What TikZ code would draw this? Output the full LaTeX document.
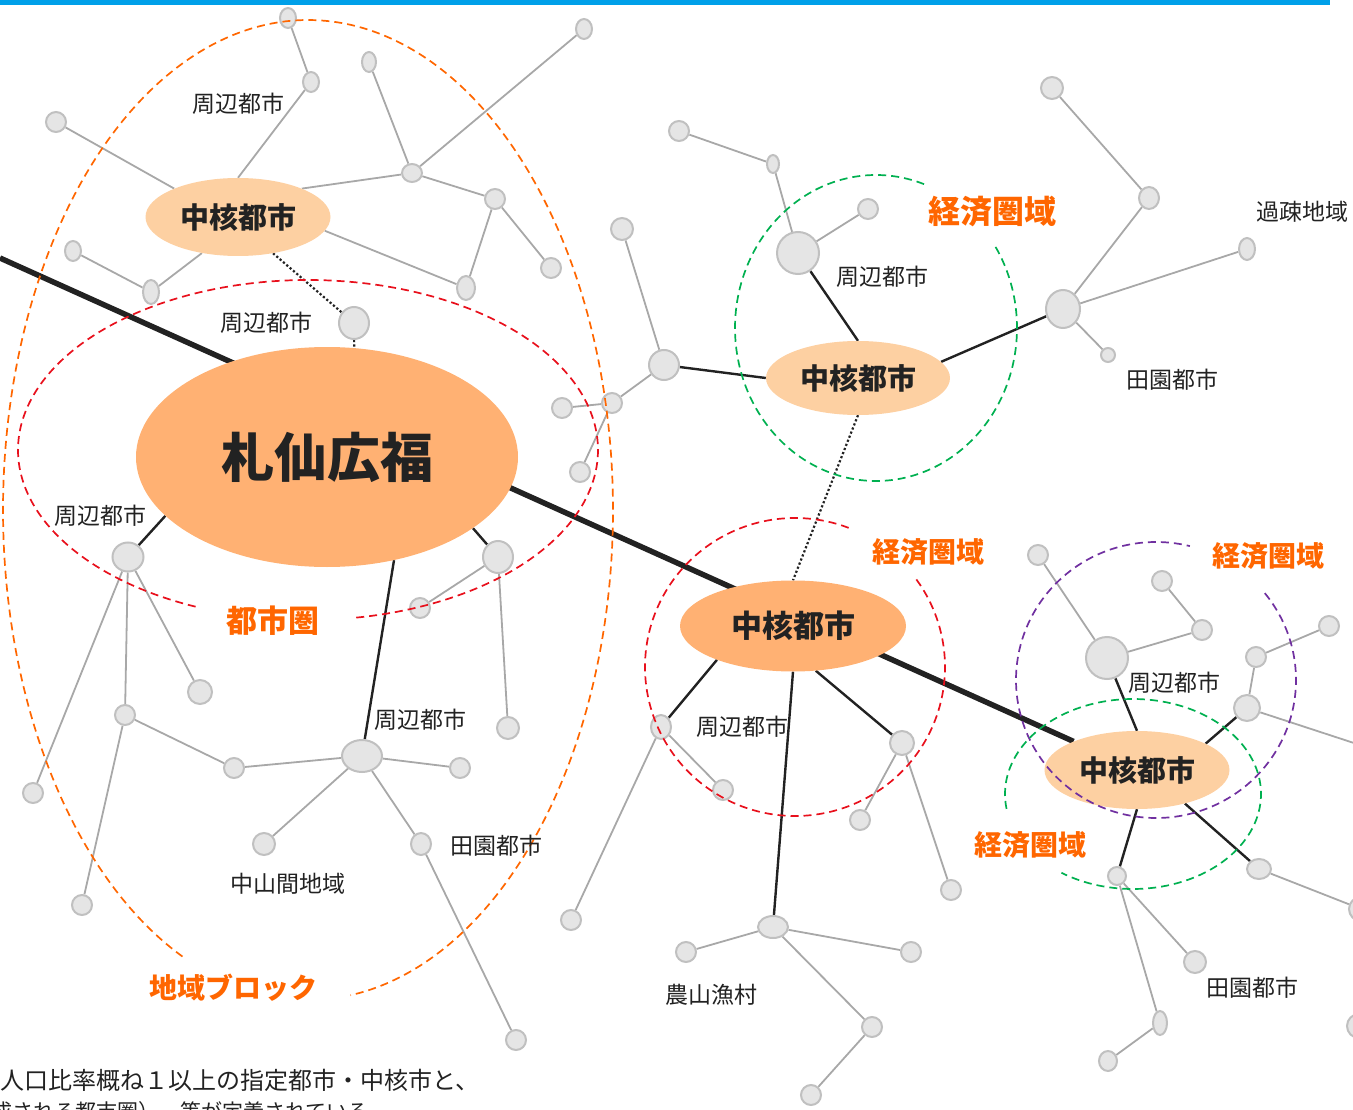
\documentclass[tikz,border=0pt]{standalone}
\usepackage{fontspec}
\newfontfamily\cjk{Noto Sans CJK JP}
\usetikzlibrary{shapes.geometric,backgrounds}
\definecolor{gfill}{RGB}{229,229,229}
\definecolor{gbord}{RGB}{192,192,192}
\definecolor{gline}{RGB}{168,168,168}
\definecolor{lor}{RGB}{253,208,162}
\definecolor{dor}{RGB}{255,177,115}
\definecolor{lbor}{RGB}{255,102,0}
\definecolor{dred}{RGB}{232,16,28}
\definecolor{dgrn}{RGB}{0,176,80}
\definecolor{dpur}{RGB}{112,48,160}
\definecolor{txt}{RGB}{34,34,34}
\definecolor{topbar}{RGB}{0,160,233}
\tikzset{
  gn/.style 2 args={ellipse, draw=gbord, fill=gfill, line width=2, inner sep=0, minimum width=#1, minimum height=#2},
  ge/.style={draw=gline, line width=1.8},
  be/.style={draw=txt, line width=2.4},
  thk/.style={draw=txt, line width=5.5},
  dotl/.style={draw=txt, line width=2.2, dash pattern=on 2.2 off 2.2},
  hub/.style={ellipse, inner sep=0, text=txt},
  lbl/.style={font=\cjk\fontsize{23}{27}\selectfont, text=txt, inner sep=0},
  olbl/.style={font=\cjk\bfseries\fontsize{28}{32}\selectfont, text=lbor, inner sep=0},
  dsh/.style={line width=1.7, dash pattern=on 8 off 5}
}
\begin{document}
\begin{tikzpicture}[x=1pt,y=-1pt]
\useasboundingbox (0,0) rectangle (1353,1110);
\fill[topbar] (0,0) rectangle (1330,5);

% hubs
\node[hub, fill=lor, minimum width=185, minimum height=78, font=\cjk\bfseries\fontsize{29}{33}\selectfont] (c1) at (238,217) {中核都市};
\node[hub, fill=dor, minimum width=382, minimum height=220, font=\cjk\bfseries\fontsize{53}{60}\selectfont] (sap) at (327,457) {札仙広福};
\node[hub, fill=lor, minimum width=184, minimum height=74, font=\cjk\bfseries\fontsize{29}{33}\selectfont] (c3) at (858,378) {中核都市};
\node[hub, fill=dor, minimum width=226, minimum height=91, font=\cjk\bfseries\fontsize{31}{35}\selectfont] (c2) at (793,626) {中核都市};
\node[hub, fill=lor, minimum width=185, minimum height=78, font=\cjk\bfseries\fontsize{29}{33}\selectfont] (c4) at (1137,770) {中核都市};

% gray nodes
\node[gn={16}{20}] (n1) at (288,18) {};
\node[gn={16}{20}] (n2) at (311,82) {};
\node[gn={20}{20}] (n3) at (56,122) {};
\node[gn={14}{20}] (n4) at (369,62) {};
\node[gn={20}{18}] (n5) at (412,173) {};
\node[gn={16}{20}] (n6) at (584,29) {};
\node[gn={20}{20}] (n7) at (495,199) {};
\node[gn={20}{20}] (n8) at (551,268) {};
\node[gn={18}{24}] (n9) at (466,288) {};
\node[gn={16}{20}] (n10) at (73,251) {};
\node[gn={16}{24}] (n11) at (151,292) {};
\node[gn={30}{32}] (n12) at (354,323) {};
\node[gn={31}{29}] (n13) at (128,557) {};
\node[gn={24}{24}] (n14) at (200,692) {};
\node[gn={20}{20}] (n15) at (33,793) {};
\node[gn={20}{20}] (n16) at (125,715) {};
\node[gn={20}{20}] (n17) at (82,905) {};
\node[gn={20}{20}] (n18) at (234,768) {};
\node[gn={40}{32}] (n19) at (362,756) {};
\node[gn={20}{20}] (n20) at (460,768) {};
\node[gn={22}{22}] (n21) at (264,844) {};
\node[gn={20}{22}] (n22) at (421,844) {};
\node[gn={20}{20}] (n23) at (516,1040) {};
\node[gn={30}{32}] (n24) at (498,557) {};
\node[gn={20}{20}] (n25) at (420,608) {};
\node[gn={22}{22}] (n26) at (508,728) {};
\node[gn={22}{22}] (n27) at (622,229) {};
\node[gn={30}{30}] (n28) at (664,365) {};
\node[gn={20}{20}] (n29) at (612,403) {};
\node[gn={20}{20}] (n30) at (562,408) {};
\node[gn={20}{20}] (n31) at (580,472) {};
\node[gn={42}{42}] (n32) at (798,253) {};
\node[gn={20}{20}] (n33) at (868,209) {};
\node[gn={12}{18}] (n34) at (773,164) {};
\node[gn={20}{20}] (n35) at (679,131) {};
\node[gn={34}{38}] (n36) at (1063,309) {};
\node[gn={20}{22}] (n37) at (1149,198) {};
\node[gn={22}{22}] (n38) at (1052,88) {};
\node[gn={16}{22}] (n39) at (1247,249) {};
\node[gn={14}{14}] (n40) at (1108,355) {};
\node[gn={20}{24}] (n41) at (661,727) {};
\node[gn={20}{20}] (n42) at (723,790) {};
\node[gn={20}{20}] (n43) at (571,920) {};
\node[gn={30}{22}] (n44) at (773,927) {};
\node[gn={20}{20}] (n45) at (686,952) {};
\node[gn={20}{20}] (n46) at (911,952) {};
\node[gn={20}{20}] (n47) at (872,1027) {};
\node[gn={20}{20}] (n48) at (811,1095) {};
\node[gn={24}{24}] (n49) at (902,743) {};
\node[gn={20}{20}] (n50) at (860,820) {};
\node[gn={20}{20}] (n51) at (951,890) {};
\node[gn={20}{20}] (n52) at (1038,555) {};
\node[gn={42}{42}] (n53) at (1107,658) {};
\node[gn={20}{20}] (n54) at (1162,581) {};
\node[gn={20}{20}] (n55) at (1202,630) {};
\node[gn={26}{26}] (n56) at (1247,708) {};
\node[gn={20}{20}] (n57) at (1256,657) {};
\node[gn={20}{20}] (n58) at (1329,626) {};
\node[gn={18}{18}] (n59) at (1117,876) {};
\node[gn={22}{22}] (n60) at (1195,962) {};
\node[gn={14}{24}] (n61) at (1160,1023) {};
\node[gn={18}{20}] (n62) at (1108,1061) {};
\node[gn={24}{20}] (n63) at (1259,869) {};
\node[gn={24}{24}] (n64) at (1361,909) {};
\node[gn={24}{24}] (n65) at (1359,1026) {};
\coordinate (ex1) at (1360,745);
\coordinate (tl) at (0,258);

% connectors
\begin{pgfonlayer}{background}
\foreach \a/\b in {n1/n2, n2/c1.north, n3/c1.156, n4/n5, n5/c1.24, n5/n6, n5/n7, n7/n8, n7/n9, n9/c1.-9, n10/n11, n11/c1.-135,
  n13/n14, n13/n15, n13/n16, n16/n17, n16/n18, n18/n19, n19/n20, n19/n21, n19/n22, n22/n23, n24/n25, n24/n26,
  n27/n28, n28/n29, n29/n30, n29/n31, n32/n33, n34/n32, n35/n34, n36/n37, n37/n38, n36/n39, n36/n40,
  n41/n42, n41/n43, n44/n45, n44/n46, n44/n47, n47/n48, n49/n50, n49/n51,
  n52/n53, n54/n55, n55/n53, n56/n57, n57/n58, n56/ex1, n59/n60, n59/n61, n61/n62, n63/n64, n64/n65}
  \draw[ge] (\a) -- (\b);
\draw[thk] (tl) -- (c4);
\foreach \a/\b in {n13/sap.-160, n19/sap.-57, n24/sap.-26, n28/c3.west, n32/c3.north, c3.11/n36,
  c2.204/n41, c2.south/n44, c2.-63/n49, n53/c4.north, c4.21/n56, c4.south/n59, c4.-35/n63}
  \draw[be] (\a) -- (\b);
\draw[dotl] (c1.-46) -- (n12);
\draw[dotl] (n12) -- (sap.76);
\draw[dotl] (c3.south) -- (c2.north);
\end{pgfonlayer}

% dashed regions
\draw[dsh, draw=lbor] plot[domain=114.3:442, samples=200, smooth] ({308+305*cos(\x)},{510+490*sin(\x)});
\draw[dsh, draw=dred] plot[domain=112.8:440.5, samples=200, smooth] ({308+290*cos(\x)},{450+170*sin(\x)});
\draw[dsh, draw=dgrn] plot[domain=-32:290, samples=160, smooth] ({876+141*cos(\x)},{328+153*sin(\x)});
\draw[dsh, draw=dred] plot[domain=-36:291, samples=160, smooth] ({795+150*cos(\x)},{667+149*sin(\x)});
\draw[dsh, draw=dpur] plot[domain=-39:284, samples=160, smooth] ({1156+140*cos(\x)},{680+138*sin(\x)});
\draw[dsh, draw=dgrn] plot[domain=171:484, samples=160, smooth] ({1133+128*cos(\x)},{794+95*sin(\x)});

% labels
\node[lbl] (l1) at (238,104) {周辺都市};
\node[lbl] (l2) at (266,323) {周辺都市};
\node[lbl] (l3) at (100,516) {周辺都市};
\node[lbl] (l4) at (420,720) {周辺都市};
\node[lbl] (l5) at (288,884) {中山間地域};
\node[lbl] (l6) at (496,846) {田園都市};
\node[olbl, font=\cjk\bfseries\fontsize{31}{35}\selectfont] (l7) at (273,621) {都市圏};
\node[olbl] (l8) at (233,988) {地域ブロック};
\node[olbl, font=\cjk\bfseries\fontsize{32}{36}\selectfont] (l9) at (992,212) {経済圏域};
\node[lbl] (l10) at (882,277) {周辺都市};
\node[lbl] (l11) at (1302,212) {過疎地域};
\node[lbl] (l12) at (1172,380) {田園都市};
\node[olbl] (l13) at (928,552) {経済圏域};
\node[lbl] (l14) at (742,727) {周辺都市};
\node[lbl] (l15) at (711,995) {農山漁村};
\node[olbl] (l16) at (1268,556) {経済圏域};
\node[lbl] (l17) at (1174,683) {周辺都市};
\node[olbl] (l18) at (1030,845) {経済圏域};
\node[lbl] (l19) at (1252,988) {田園都市};

\node[lbl, anchor=west, font=\cjk\fontsize{24}{28}\selectfont] (t1) at (0,1080) {人口比率概ね１以上の指定都市・中核市と、};
\node[lbl, anchor=west, font=\cjk\fontsize{21}{25}\selectfont] (t2) at (-9,1112) {成される都市圏）、等が定義されている。};
\end{tikzpicture}
\end{document}
